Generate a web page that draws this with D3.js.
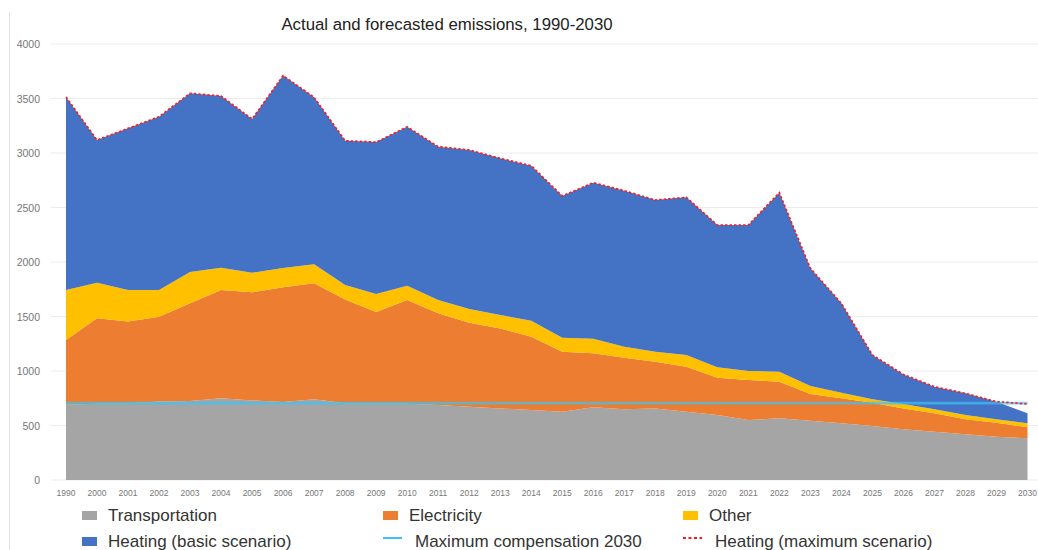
<!DOCTYPE html>
<html lang="en">
<head>
<meta charset="UTF-8">
<title>Actual and forecasted emissions, 1990-2030</title>
<script src="https://d3js.org/d3.v7.min.js"></script>
<style>
  body { margin: 0; background: #fff; }
  svg { display: block; font-family: "Liberation Sans", Arial, sans-serif; }
</style>
</head>
<body>
<svg width="1038" height="550"></svg>
<script>
// years on the x axis (1990, then 2000..2030)
const years = ["1990", "2000", "2001", "2002", "2003", "2004", "2005", "2006", "2007", "2008",
  "2009", "2010", "2011", "2012", "2013", "2014", "2015", "2016", "2017", "2018", "2019",
  "2020", "2021", "2022", "2023", "2024", "2025", "2026", "2027", "2028", "2029", "2030"];

// stacked series
const transportation = [690, 700, 705, 720, 725, 750, 730, 715, 740, 705, 700, 700, 688, 673, 657, 642,
  627, 667, 648, 657, 627, 596, 550, 566, 544, 520, 495, 465, 443, 419, 397, 382];
const electricity = [594, 783, 748, 778, 896, 993, 992, 1053, 1064, 952, 841, 951, 841, 770, 734, 673,
  550, 495, 474, 429, 413, 343, 367, 336, 245, 229, 214, 192, 169, 138, 129, 101];
const other = [459, 327, 290, 245, 287, 205, 180, 177, 175, 132, 165, 132, 122, 126, 123, 147,
  129, 135, 101, 91, 107, 95, 83, 92, 73, 52, 31, 40, 36, 39, 31, 37];
const heatingBasic = [1771, 1309, 1483, 1590, 1640, 1575, 1410, 1765, 1532, 1324, 1394, 1457, 1407, 1459, 1437, 1422,
  1300, 1431, 1431, 1392, 1446, 1305, 1339, 1642, 1080, 820, 407, 272, 208, 199, 162, 92];
// maximum scenario heating (drawn on top of the other sectors)
const heatingMax = [1771, 1309, 1483, 1590, 1640, 1575, 1410, 1765, 1532, 1324, 1394, 1457, 1407, 1459, 1437, 1422,
  1300, 1431, 1431, 1392, 1446, 1305, 1339, 1642, 1080, 820, 407, 272, 208, 199, 162, 177];
// flat compensation line
const maxCompensation = years.map(() => 705);

const yTicks = [0, 500, 1000, 1500, 2000, 2500, 3000, 3500, 4000];

const keys = ["Transportation", "Electricity", "Other", "Heating (basic scenario)"];
const colors = ["#a5a5a5", "#ed7d31", "#ffc000", "#4472c4"];
const seriesValues = [transportation, electricity, other, heatingBasic];

const rows = years.map((yr, i) => {
  const r = { year: yr };
  keys.forEach((k, j) => r[k] = seriesValues[j][i]);
  return r;
});

const svg = d3.select("svg");

const x = d3.scalePoint().domain(years).range([66, 1027.5]);
const y = d3.scaleLinear().domain([0, 4000]).range([480, 44]);

// frame line on the left
svg.append("line")
  .attr("x1", 9.5).attr("x2", 9.5).attr("y1", 12).attr("y2", 550)
  .attr("stroke", "#e3e3e3").attr("stroke-width", 1);

// gridlines
svg.append("g").selectAll("line")
  .data(yTicks)
  .join("line")
  .attr("x1", 51).attr("x2", 1038)
  .attr("y1", d => y(d)).attr("y2", d => y(d))
  .attr("stroke", "#ececec").attr("stroke-width", 1.2);

// y labels
svg.append("g").selectAll("text")
  .data(yTicks)
  .join("text")
  .attr("x", 40).attr("y", d => y(d) + 4)
  .attr("text-anchor", "end")
  .attr("font-size", "10.5px")
  .attr("fill", "#777")
  .text(d => d);

const stacked = d3.stack().keys(keys)(rows);

const area = d3.area()
  .x(d => x(d.data.year))
  .y0(d => y(d[0]))
  .y1(d => y(d[1]));

svg.append("g").selectAll("path")
  .data(stacked)
  .join("path")
  .attr("fill", (d, i) => colors[i])
  .attr("d", area);

// compensation line
const line = d3.line().x((d, i) => x(years[i])).y(d => y(d));
svg.append("path")
  .datum(maxCompensation)
  .attr("fill", "none")
  .attr("stroke", "#3cc3f5")
  .attr("stroke-opacity", 0.7)
  .attr("stroke-width", 2.6)
  .attr("d", line);

// heating max scenario, on top of the stack below heating
const maxTop = years.map((yr, i) => transportation[i] + electricity[i] + other[i] + heatingMax[i]);
svg.append("path")
  .datum(maxTop)
  .attr("fill", "none")
  .attr("stroke", "#ff1a1a")
  .attr("stroke-width", 1.6)
  .attr("stroke-dasharray", "2.5,2")
  .attr("d", line);

// x labels
svg.append("g").selectAll("text")
  .data(years)
  .join("text")
  .attr("x", d => x(d)).attr("y", 496)
  .attr("text-anchor", "middle")
  .attr("font-size", "8.5px")
  .attr("fill", "#777")
  .text(d => d);

// title
svg.append("text")
  .attr("x", 447).attr("y", 30)
  .attr("text-anchor", "middle")
  .attr("font-size", "16.8px")
  .attr("fill", "#222")
  .text("Actual and forecasted emissions, 1990-2030");

// legend
const legend = [
  { name: "Transportation", type: "box", color: colors[0], x: 82, y: 515 },
  { name: "Electricity", type: "box", color: colors[1], x: 383, y: 515 },
  { name: "Other", type: "box", color: colors[2], x: 683, y: 515 },
  { name: "Heating (basic scenario)", type: "box", color: colors[3], x: 82, y: 541 },
  { name: "Maximum compensation 2030", type: "line", color: "#3cc3f5", x: 383, y: 541 },
  { name: "Heating (maximum scenario)", type: "dash", color: "#ff1a1a", x: 683, y: 541 }
];

const lg = svg.append("g").selectAll("g")
  .data(legend)
  .join("g")
  .attr("transform", d => `translate(${d.x},${d.y})`);

lg.filter(d => d.type === "box").append("rect")
  .attr("x", 0).attr("y", -4).attr("width", 15).attr("height", 9)
  .attr("fill", d => d.color);

lg.filter(d => d.type !== "box").append("line")
  .attr("x1", 0).attr("x2", 19).attr("y1", -3).attr("y2", -3)
  .attr("stroke", d => d.color)
  .attr("stroke-width", 2)
  .attr("stroke-dasharray", d => d.type === "dash" ? "3,2.5" : null);

lg.append("text")
  .attr("x", d => d.type === "box" ? 26 : 32)
  .attr("y", 6)
  .attr("font-size", "17px")
  .attr("fill", "#333")
  .text(d => d.name);
</script>
</body>
</html>
